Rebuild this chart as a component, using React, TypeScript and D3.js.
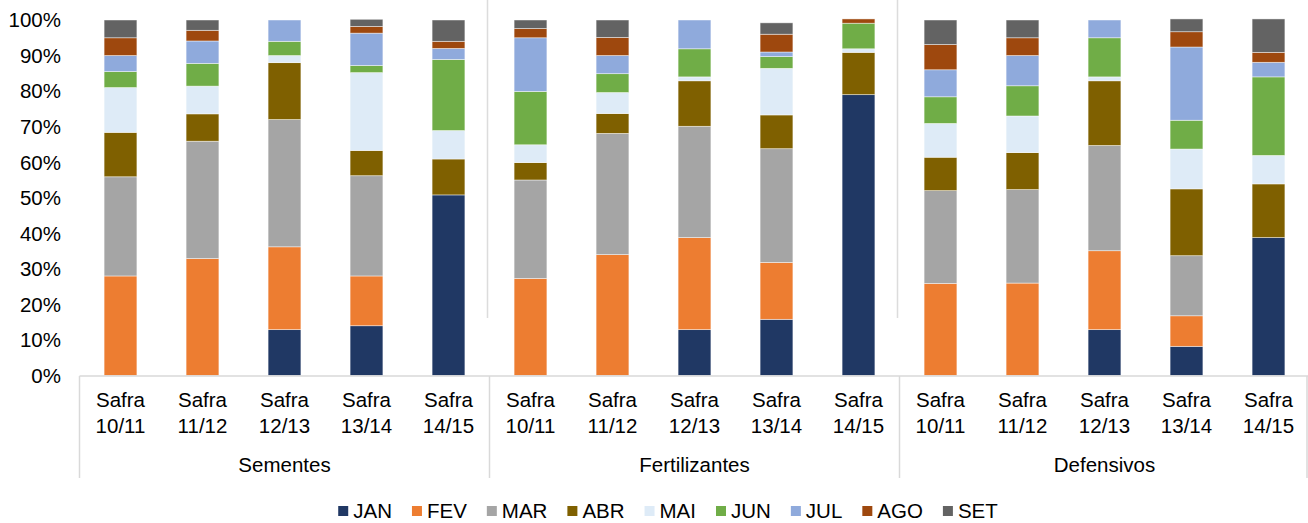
import React, { useEffect, useRef } from 'react';
import * as d3 from 'd3';

// categories
const groups = ['Sementes', 'Fertilizantes', 'Defensivos'];
const safras = ['10/11', '11/12', '12/13', '13/14', '14/15'];
const months = ['JAN', 'FEV', 'MAR', 'ABR', 'MAI', 'JUN', 'JUL', 'AGO', 'SET'];
const monthColors = ['#203864', '#ED7D31', '#A5A5A5', '#7F6000', '#DEEBF7', '#70AD47', '#8FAADC', '#9E480E', '#636363'];
const yTicks = [0, 10, 20, 30, 40, 50, 60, 70, 80, 90, 100];

// share per month (%), 15 bars: Sementes x5, Fertilizantes x5, Defensivos x5
const jan = [0, 0, 12.9, 14, 50.8, 0, 0, 12.9, 15.8, 79, 0, 0, 12.9, 8.2, 38.8];
const fev = [28, 32.9, 23.3, 14, 0, 27.3, 34, 25.9, 16, 0, 25.9, 26, 22.2, 8.6, 0];
const mar = [27.9, 33, 35.8, 28.2, 0, 27.7, 34.1, 31.3, 32, 0, 26.1, 26.3, 29.6, 16.9, 0];
const abr = [12.5, 7.7, 16, 7.1, 10.1, 4.9, 5.6, 12.8, 9.5, 11.9, 9.4, 10.4, 18.2, 18.8, 15.1];
const mai = [12.6, 7.8, 2, 21.9, 8, 5, 5.9, 1.1, 13.1, 1, 9.5, 10.3, 1.1, 11.2, 8];
const jun = [4.5, 6.4, 4, 2, 20, 15, 5.3, 7.9, 3.3, 7.2, 7.5, 8.5, 11, 8.1, 22.1];
const jul = [4.5, 6.3, 6, 9.1, 3.1, 15.1, 5.1, 8.1, 1.3, 0, 7.6, 8.5, 5, 20.6, 4.1];
const ago = [5, 3, 0, 1.9, 2, 2.6, 5.1, 0, 5, 1.2, 7.1, 5, 0, 4.3, 2.8];
const set = [5, 2.9, 0, 2, 6, 2.4, 4.9, 0, 3.2, 0, 6.9, 5, 0, 3.6, 9.4];

const series = [jan, fev, mar, abr, mai, jun, jul, ago, set];

const W = 1308;
const H = 523;
const FONT = '"Liberation Sans", Arial, sans-serif';

export default function App() {
  const svgRef = useRef<SVGSVGElement | null>(null);

  useEffect(() => {
    if (!svgRef.current) return;
    const svg = d3.select(svgRef.current);
    svg.selectAll('*').remove();

    const n = groups.length * safras.length;
    const ids = d3.range(n);
    const x = d3.scaleBand<number>().domain(ids).range([79.5, 79.5 + 82 * n]).paddingInner(0.6).paddingOuter(0.3);
    const y = d3.scaleLinear().domain([0, 100]).range([375.5, 20]);
    const step = x.step();
    const left = x.range()[0];

    const rows = ids.map((i) => {
      const r: any = { i };
      months.forEach((m, k) => (r[m] = series[k][i]));
      return r;
    });
    const stacked = d3.stack<any>().keys(months)(rows);

    // light separators inside plot
    [1, 2].forEach((g) => {
      svg.append('line')
        .attr('x1', left + g * 5 * step - 2).attr('x2', left + g * 5 * step - 2)
        .attr('y1', 0).attr('y2', 318)
        .attr('stroke', '#dcdcdc').attr('stroke-width', 1.5);
    });

    // bars
    stacked.forEach((layer, k) => {
      svg.append('g')
        .selectAll('rect')
        .data(layer.filter((d) => d[1] - d[0] > 0))
        .join('rect')
        .attr('x', (d) => x(d.data.i)!)
        .attr('width', x.bandwidth())
        .attr('y', (d) => y(d[1]))
        .attr('height', (d) => y(d[0]) - y(d[1]))
        .attr('fill', monthColors[k])
        .attr('stroke', '#ffffff')
        .attr('stroke-opacity', 0.6)
        .attr('stroke-width', 0.75);
    });

    // y labels
    svg.append('g')
      .selectAll('text')
      .data(yTicks)
      .join('text')
      .attr('x', 61)
      .attr('y', (d) => y(d))
      .attr('dy', '0.36em')
      .attr('text-anchor', 'end')
      .attr('font-family', FONT)
      .attr('font-size', 20.5)
      .attr('fill', '#000')
      .text((d) => `${d}%`);

    // category axis
    const axisColor = '#d9d9d9';
    svg.append('line')
      .attr('x1', left).attr('x2', W)
      .attr('y1', 376).attr('y2', 376)
      .attr('stroke', axisColor).attr('stroke-width', 1.5);
    d3.range(groups.length + 1).forEach((g) => {
      const gx = Math.min(left + g * 5 * step, W - 1);
      svg.append('line')
        .attr('x1', gx).attr('x2', gx)
        .attr('y1', 376).attr('y2', 478)
        .attr('stroke', axisColor).attr('stroke-width', 1.5);
    });

    const cat = svg.append('g')
      .selectAll('text')
      .data(ids)
      .join('text')
      .attr('text-anchor', 'middle')
      .attr('font-family', FONT)
      .attr('font-size', 20.5)
      .attr('fill', '#000');
    cat.append('tspan')
      .attr('x', (i) => x(i)! + x.bandwidth() / 2)
      .attr('y', 407)
      .text('Safra');
    cat.append('tspan')
      .attr('x', (i) => x(i)! + x.bandwidth() / 2)
      .attr('y', 433)
      .text((i) => safras[i % safras.length]);

    svg.append('g')
      .selectAll('text')
      .data(groups)
      .join('text')
      .attr('x', (_, g) => left + (g + 0.5) * 5 * step)
      .attr('y', 472)
      .attr('text-anchor', 'middle')
      .attr('font-family', FONT)
      .attr('font-size', 20.5)
      .attr('fill', '#000')
      .text((d) => d);

    // legend
    const leg = svg.append('g');
    const items = months.map((m, k) => {
      const g = leg.append('g');
      g.append('rect').attr('width', 10).attr('height', 10).attr('y', -5).attr('fill', monthColors[k]);
      const t = g.append('text')
        .attr('x', 15)
        .attr('dy', '0.36em')
        .attr('font-family', FONT)
        .attr('font-size', 20.5)
        .attr('fill', '#000')
        .text(m);
      const w = (t.node() as SVGTextElement).getComputedTextLength();
      return { g, w: 15 + w };
    });
    const gap = 20;
    const total = d3.sum(items, (d) => d.w) + gap * (items.length - 1);
    let cx = 668 - total / 2;
    items.forEach((it) => {
      it.g.attr('transform', `translate(${cx},511)`);
      cx += it.w + gap;
    });
  }, []);

  return (
    <svg
      ref={svgRef}
      width={W}
      height={H}
      viewBox={`0 0 ${W} ${H}`}
      style={{ position: 'absolute', left: 0, top: 0, background: '#fff' }}
    />
  );
}
